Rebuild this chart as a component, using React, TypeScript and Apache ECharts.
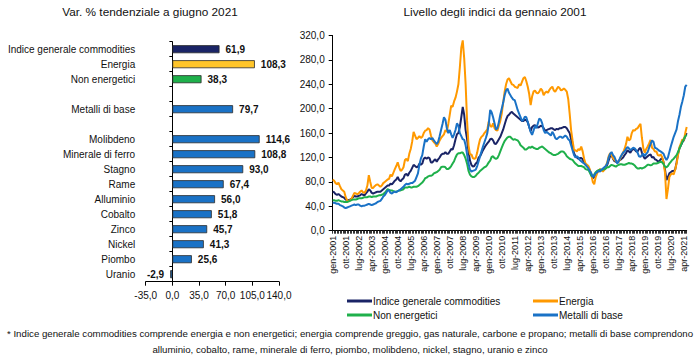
import React, { useEffect, useRef } from "react";
import * as echarts from "echarts";

// ---------- DATA ----------
const barCategories = [
  "Indice generale commodities", "Energia", "Non energetici", " ",
  "Metalli di base", "  ",
  "Molibdeno", "Minerale di ferro", "Stagno", "Rame", "Alluminio",
  "Cobalto", "Zinco", "Nickel", "Piombo", "Uranio",
];
const barValues: (number | null)[] = [
  61.9, 108.3, 38.3, null, 79.7, null,
  114.6, 108.8, 93.0, 67.4, 56.0, 51.8, 45.7, 41.3, 25.6, -2.9,
];
const barTicks = [-35, 0, 35, 70, 105, 140];

const monthNames = ["gen", "feb", "mar", "apr", "mag", "giu", "lug", "ago", "set", "ott", "nov", "dic"];
const startYear = 2001;
const endYear = 2021;
const endMonthIndex = 5; // giugno 2021

const indiceGenerale = [
  64, 63, 60, 59, 60, 58, 56, 55, 54, 51, 50, 50,
  51, 52, 55, 57, 56, 56, 57, 58, 60, 59, 58, 61,
  64, 68, 66, 62, 61, 62, 63, 64, 64, 64, 66, 68,
  70, 72, 74, 74, 77, 76, 79, 82, 84, 88, 83, 81,
  84, 86, 92, 93, 90, 95, 98, 103, 108, 106, 104, 105,
  110, 108, 110, 118, 120, 118, 120, 119, 112, 112, 115, 117,
  113, 117, 120, 124, 126, 126, 129, 126, 126, 130, 134, 133,
  140, 150, 158, 160, 170, 186, 203, 190, 165, 150, 130, 115,
  108, 105, 106, 110, 112, 120, 122, 127, 132, 136, 140, 143,
  146, 150, 151, 148, 143, 142, 146, 150, 154, 160, 166, 174,
  182, 188, 190, 193, 195, 192, 190, 188, 186, 184, 182, 180,
  180, 182, 181, 178, 170, 163, 170, 172, 173, 171, 169, 170,
  172, 171, 168, 164, 165, 166, 167, 168, 168, 166, 165, 167,
  166, 168, 168, 169, 170, 170, 168, 164, 160, 150, 138, 127,
  122, 120, 118, 119, 119, 117, 112, 108, 106, 104, 98, 92,
  86, 88, 94, 97, 99, 100, 99, 99, 100, 104, 108, 115,
  122, 124, 118, 114, 113, 112, 115, 116, 118, 120, 124, 127,
  132, 130, 128, 132, 134, 133, 130, 130, 134, 136, 128, 122,
  118, 120, 122, 124, 125, 120, 121, 117, 116, 114, 114, 117,
  119, 112, 100, 83, 88, 94, 96, 98, 98, 100, 112, 126,
  135, 140, 145, 148, 155, 160,
];

const energia = [
  84, 82, 78, 76, 79, 73, 68, 66, 64, 55, 50, 48,
  50, 52, 57, 62, 61, 60, 61, 64, 66, 63, 62, 66,
  74, 91, 80, 70, 70, 73, 75, 76, 74, 72, 74, 78,
  80, 82, 84, 85, 92, 89, 95, 101, 106, 112, 104, 98,
  100, 104, 116, 118, 114, 126, 134, 146, 162, 156, 150, 152,
  155, 152, 154, 160, 164, 165, 168, 166, 156, 148, 145, 143,
  138, 142, 148, 152, 155, 158, 165, 162, 175, 190, 205, 203,
  212, 218, 228, 240, 268, 300, 312, 283, 240, 180, 140, 125,
  125, 119, 118, 119, 128, 140, 150, 154, 156, 160, 163, 166,
  179, 172, 170, 176, 168, 165, 164, 172, 180, 192, 210, 228,
  240, 248, 250, 245, 240, 239, 236, 235, 234, 240, 238, 244,
  250, 252, 245, 236, 224, 206, 220, 228, 230, 226, 225, 228,
  233, 230, 222, 226, 228, 226, 231, 234, 236, 230, 228, 232,
  236, 234, 230, 231, 233, 231, 228, 216, 192, 165, 148, 132,
  132, 130, 134, 132, 138, 130, 118, 110, 108, 106, 100, 92,
  80, 76, 88, 94, 98, 101, 99, 97, 100, 106, 112, 122,
  127, 124, 119, 116, 114, 112, 113, 118, 124, 128, 134, 142,
  154, 148, 150, 160, 165, 164, 167, 168, 172, 175, 152, 135,
  128, 134, 138, 143, 149, 136, 134, 130, 130, 124, 123, 125,
  121, 112, 95, 52, 68, 88, 92, 94, 92, 100, 110, 124,
  137, 143, 150, 148, 160, 170,
];

const nonEnergetici = [
  50, 50, 49, 49, 50, 49, 48, 48, 47, 47, 47, 48,
  49, 50, 51, 51, 51, 52, 53, 53, 53, 54, 55, 55,
  55, 56, 56, 55, 56, 56, 56, 57, 58, 58, 59, 60,
  62, 65, 68, 67, 66, 66, 65, 64, 64, 65, 66, 66,
  67, 68, 71, 71, 71, 72, 71, 71, 72, 72, 72, 73,
  75, 77, 79, 82, 86, 87, 89, 90, 90, 91, 94, 95,
  96, 98, 100, 104, 105, 105, 104, 101, 101, 103, 106, 110,
  114, 120, 125, 127, 127, 128, 128, 124, 118, 110, 98, 92,
  89, 88, 88, 90, 93, 95, 98, 100, 102, 104, 105, 108,
  112, 115, 121, 122, 119, 118, 119, 124, 130, 136, 142, 147,
  150, 153, 154, 154, 151, 149, 150, 149, 148, 145, 140, 138,
  136, 133, 133, 135, 137, 136, 138, 136, 135, 134, 134, 136,
  137, 138, 136, 134, 132, 130, 128, 127, 125, 124, 124, 125,
  126, 128, 130, 130, 129, 126, 122, 120, 118, 117, 116, 113,
  110, 108, 106, 106, 106, 105, 104, 101, 100, 100, 95, 90,
  89, 92, 96, 98, 99, 100, 100, 100, 101, 102, 104, 104,
  106, 108, 107, 106, 105, 107, 108, 109, 109, 108, 108, 109,
  110, 111, 110, 110, 109, 107, 104, 102, 102, 103, 102, 103,
  104, 106, 108, 108, 107, 108, 110, 110, 110, 111, 112, 113,
  112, 109, 105, 104, 106, 110, 113, 116, 118, 121, 124, 129,
  135, 140, 146, 150, 155, 157,
];

const metalliDiBase = [
  46, 46, 45, 44, 44, 42, 41, 40, 38, 37, 38, 39,
  40, 41, 42, 43, 42, 43, 43, 41, 40, 41, 41, 42,
  43, 44, 43, 42, 43, 44, 45, 47, 48, 49, 52, 56,
  58, 62, 66, 66, 62, 61, 63, 64, 63, 65, 66, 68,
  70, 72, 75, 77, 76, 77, 78, 78, 80, 82, 88, 94,
  108, 118, 124, 138, 150, 146, 150, 152, 150, 152, 148, 145,
  142, 146, 155, 165, 175, 186, 182, 168, 160, 165, 158, 152,
  158, 165, 176, 172, 160, 155, 150, 149, 140, 125, 110, 100,
  97, 98, 99, 100, 106, 114, 122, 130, 138, 145, 152, 160,
  175, 198, 194, 186, 176, 166, 168, 178, 190, 200, 210, 222,
  230, 233, 226, 222, 218, 215, 214, 206, 198, 192, 186, 180,
  182, 187, 186, 178, 170, 162, 157, 164, 172, 168, 176, 184,
  182, 176, 165, 160, 162, 160, 158, 156, 162, 158, 152, 150,
  152, 154, 154, 152, 154, 156, 154, 150, 148, 140, 132, 124,
  120, 122, 120, 116, 114, 112, 110, 108, 105, 102, 98, 94,
  88, 90, 94, 96, 98, 97, 100, 102, 104, 106, 110, 120,
  126, 129, 124, 121, 115, 110, 114, 120, 124, 128, 130, 134,
  137, 135, 132, 134, 136, 135, 132, 128, 122, 121, 124, 126,
  122, 126, 129, 136, 142, 148, 146, 136, 135, 133, 131, 130,
  128, 126, 120, 116, 120, 129, 138, 146, 154, 160, 166, 180,
  190, 203, 212, 222, 236, 239,
];

const lineYTicks = [0, 40, 80, 120, 160, 200, 240, 280, 320];

const footnoteLines = [
  "* Indice generale commodities comprende energia e non energetici; energia comprende greggio, gas naturale, carbone e propano; metalli di base comprendono",
  "alluminio, cobalto, rame, minerale di ferro, piombo, molibdeno, nickel, stagno, uranio e zinco",
];

// ---------- STYLE ----------
const F = '"Liberation Sans", Arial, sans-serif';
const TXT = "#111111";
const C_NAVY = "#1a2466";
const C_ORANGE = "#ff9900";
const C_GREEN = "#1fb04b";
const C_BLUE = "#1a72c6";
const C_GOLD = "#ffc52a";

const fmt = (v: number) => v.toFixed(1).replace(".", ",");

function barColor(name: string) {
  if (name === "Indice generale commodities") return C_NAVY;
  if (name === "Energia") return C_GOLD;
  if (name === "Non energetici") return C_GREEN;
  return C_BLUE;
}

function buildMonths() {
  const out: string[] = [];
  for (let y = startYear; y <= endYear; y++) {
    for (let m = 0; m < 12; m++) {
      if (y === endYear && m > endMonthIndex) break;
      out.push(monthNames[m] + "-" + y);
    }
  }
  return out;
}

export default function App() {
  const ref = useRef<HTMLDivElement>(null);
  useEffect(() => {
    if (!ref.current) return;
    const chart = echarts.init(ref.current, undefined, { renderer: "svg" });
    const months = buildMonths();
    const lineSeries = [
      { name: "Indice generale commodities", data: indiceGenerale, color: C_NAVY },
      { name: "Energia", data: energia, color: C_ORANGE },
      { name: "Non energetici", data: nonEnergetici, color: C_GREEN },
      { name: "Metalli di base", data: metalliDiBase, color: C_BLUE },
    ];
    chart.setOption({
      animation: false,
      backgroundColor: "#ffffff",
      textStyle: { fontFamily: F },
      grid: [
        { left: 145.7, top: 41.7, width: 133.3, height: 240, containLabel: false, outerBoundsMode: "none" },
        { left: 332.7, top: 35.5, width: 354, height: 195.2, containLabel: false, outerBoundsMode: "none" },
      ],
      xAxis: [
        {
          type: "value", gridIndex: 0, min: barTicks[0], max: barTicks[barTicks.length - 1], interval: 35,
          splitLine: { show: false },
          axisLine: { show: true, lineStyle: { color: "#000", width: 1 } },
          axisTick: { show: true, length: 4, lineStyle: { color: "#000" } },
          axisLabel: { formatter: (v: number) => fmt(v), fontSize: 10, fontFamily: F, color: TXT, margin: 9 },
        },
        {
          type: "category", gridIndex: 1, data: months, boundaryGap: false,
          axisLine: { show: true, lineStyle: { color: "#000", width: 1 } },
          axisTick: { show: true, interval: 0, length: 3, lineStyle: { color: "#333" } },
          axisLabel: { interval: 8, rotate: 90, fontSize: 9, fontFamily: F, color: TXT, margin: 5 },
        },
      ],
      yAxis: [
        {
          type: "category", gridIndex: 0, data: barCategories, inverse: true,
          axisLine: { show: true, onZero: true, lineStyle: { color: "#000", width: 1 } },
          axisTick: { show: true, interval: 0, length: 3, lineStyle: { color: "#000" } },
          axisLabel: { interval: 0, fontSize: 10, fontFamily: F, color: TXT, margin: 10.5 },
        },
        {
          type: "value", gridIndex: 1, min: 0, max: lineYTicks[lineYTicks.length - 1], interval: 40,
          splitLine: { show: false },
          axisLine: { show: true, lineStyle: { color: "#000", width: 1 } },
          axisTick: { show: true, length: 4, lineStyle: { color: "#000" } },
          axisLabel: { formatter: (v: number) => fmt(v), fontSize: 10, fontFamily: F, color: TXT, margin: 8 },
        },
      ],
      legend: [
        {
          left: 342, top: 291, orient: "vertical", itemGap: 4, itemWidth: 25, itemHeight: 3, icon: "rect",
          data: ["Indice generale commodities", "Non energetici"],
          textStyle: { fontSize: 10, fontFamily: F, color: TXT, padding: [0, 0, 0, -4] },
        },
        {
          left: 528, top: 291, orient: "vertical", itemGap: 4, itemWidth: 25, itemHeight: 3, icon: "rect",
          data: ["Energia", "Metalli di base"],
          textStyle: { fontSize: 10, fontFamily: F, color: TXT, padding: [0, 0, 0, -4] },
        },
      ],
      graphic: [
        { type: "text", x: 150, y: 12, style: { text: "Var. % tendenziale a giugno 2021", align: "center", verticalAlign: "middle", fontSize: 11.8, fontFamily: F, fill: TXT } },
        { type: "text", x: 495, y: 12, style: { text: "Livello degli indici da gennaio 2001", align: "center", verticalAlign: "middle", fontSize: 11.8, fontFamily: F, fill: TXT } },
        { type: "text", x: 350, y: 333, style: { text: footnoteLines[0], align: "center", verticalAlign: "middle", fontSize: 9.7, fontFamily: F, fill: TXT } },
        { type: "text", x: 350, y: 349, style: { text: footnoteLines[1], align: "center", verticalAlign: "middle", fontSize: 9.7, fontFamily: F, fill: TXT } },
      ],
      series: [
        {
          type: "bar", xAxisIndex: 0, yAxisIndex: 0, barWidth: 8,
          data: barValues.map((v, i) =>
            v === null
              ? "-"
              : {
                  value: v,
                  itemStyle: { color: barColor(barCategories[i]) },
                  label: { position: v < 0 ? "left" : "right" },
                }
          ),
          itemStyle: { borderColor: "#2a2a2a", borderWidth: 0.8 },
          label: {
            show: true, distance: 6, fontSize: 10, fontWeight: "bold", fontFamily: F, color: TXT,
            formatter: (p: any) => fmt(p.value),
          },
        },
        ...lineSeries.map((s) => ({
          type: "line", name: s.name, xAxisIndex: 1, yAxisIndex: 1, data: s.data,
          symbol: "none", color: s.color, lineStyle: { color: s.color, width: 2 },
        })),
      ],
    });
    return () => chart.dispose();
  }, []);
  return <div ref={ref} style={{ position: "fixed", left: 0, top: 0, width: 700, height: 361 }} />;
}
